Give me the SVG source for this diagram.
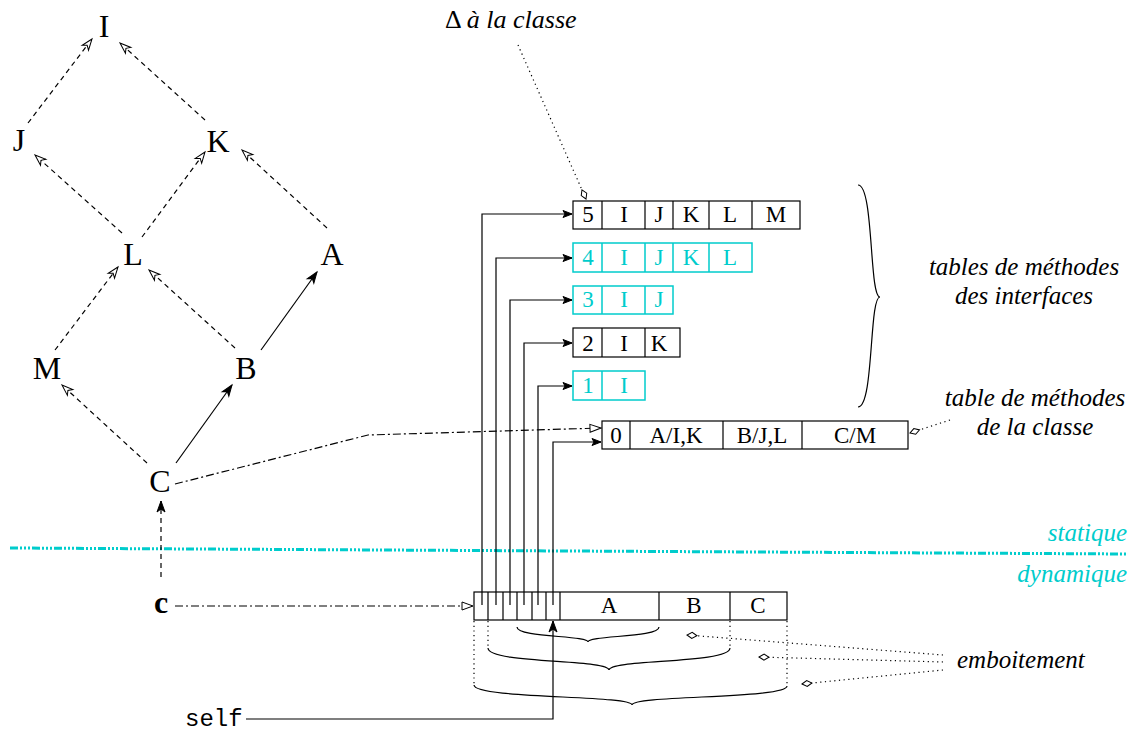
<svg xmlns="http://www.w3.org/2000/svg" width="1132" height="731" viewBox="0 0 1132 731">
<style>
text{font-family:"Liberation Serif","Times New Roman",serif;fill:#000}
.n{font-size:32px;text-anchor:middle}
.t{font-size:23px;text-anchor:middle}
.cy{fill:#00cccc}
.it{font-family:"Liberation Serif","Times New Roman",serif;font-style:italic;font-size:25px}
.box{fill:none;stroke:#000;stroke-width:1.2}
.cbox{fill:none;stroke:#00cccc;stroke-width:1.5}
.ln{fill:none;stroke:#000;stroke-width:1.2}
.dash{stroke-dasharray:5 4}
.dd{stroke-dasharray:8 3 2 3}
.dot{stroke-dasharray:1.2 3.5}
.mono{font-family:"Liberation Mono","Courier New",monospace;font-size:24px}
</style>
<defs>
<marker id="open" viewBox="-13 -6 15 12" refX="0" refY="0" markerWidth="15" markerHeight="12" markerUnits="userSpaceOnUse" orient="auto">
<path d="M0,0 L-11,-4 L-8,0 L-11,4 Z" fill="#fff" stroke="#000" stroke-width="1"/>
</marker>
<marker id="fill" viewBox="-13 -6 15 12" refX="0" refY="0" markerWidth="15" markerHeight="12" markerUnits="userSpaceOnUse" orient="auto">
<path d="M0,0 L-11,-4 L-8,0 L-11,4 Z" fill="#000" stroke="#000" stroke-width="1"/>
</marker>
<marker id="ptr" viewBox="-11 -5 12 10" refX="0" refY="0" markerWidth="12" markerHeight="10" markerUnits="userSpaceOnUse" orient="auto">
<path d="M0,0 L-9,-3.5 L-7,0 L-9,3.5 Z" fill="#000" stroke="#000" stroke-width="1"/>
</marker>
<marker id="tri" viewBox="-12 -6 13 12" refX="0" refY="0" markerWidth="13" markerHeight="12" markerUnits="userSpaceOnUse" orient="auto">
<path d="M0,0 L-11,-4 L-11,4 Z" fill="#fff" stroke="#000" stroke-width="1"/>
</marker>
<marker id="kite" viewBox="-12 -5 13 10" refX="0" refY="0" markerWidth="13" markerHeight="10" markerUnits="userSpaceOnUse" orient="auto">
<path d="M0,0 L-5,-3 L-10,0 L-5,3 Z" fill="#fff" stroke="#000" stroke-width="1"/>
</marker>
</defs>

<!-- separator -->
<g id="separator">
<line x1="10" y1="548" x2="1128" y2="554" stroke="#00cccc" stroke-width="3" stroke-dasharray="8 2 2 2 2 2 2 2"/>
<text class="it cy" x="1127" y="541" text-anchor="end">statique</text>
<text class="it cy" x="1127" y="582" text-anchor="end">dynamique</text>
</g>

<!-- hierarchy nodes -->
<g id="node-I"><text class="n" x="104" y="37">I</text></g>
<g id="node-J"><text class="n" x="19" y="151">J</text></g>
<g id="node-K"><text class="n" x="218" y="152">K</text></g>
<g id="node-L"><text class="n" x="133" y="265">L</text></g>
<g id="node-A"><text class="n" x="332" y="265">A</text></g>
<g id="node-M"><text class="n" x="47" y="379">M</text></g>
<g id="node-B"><text class="n" x="246" y="379">B</text></g>
<g id="node-C"><text class="n" x="160" y="492">C</text></g>
<g id="node-c"><text class="n" x="161" y="613" font-weight="bold" font-size="31">c</text></g>

<!-- tables -->
<g id="table-5">
<rect class="box" x="573" y="201" width="227" height="28"/>
<path class="ln" d="M602,201V229M645,201V229M673,201V229M709,201V229M752,201V229"/>
<text class="t" x="588" y="222">5</text><text class="t" x="624" y="222">I</text><text class="t" x="659" y="222">J</text><text class="t" x="691" y="222">K</text><text class="t" x="730" y="222">L</text><text class="t" x="776" y="222">M</text>
</g>
<g id="table-4">
<rect class="cbox" x="573" y="243" width="179" height="29"/>
<path class="cbox" d="M602,243V272M645,243V272M673,243V272M709,243V272"/>
<text class="t cy" x="588" y="265">4</text><text class="t cy" x="624" y="265">I</text><text class="t cy" x="659" y="265">J</text><text class="t cy" x="691" y="265">K</text><text class="t cy" x="730" y="265">L</text>
</g>
<g id="table-3">
<rect class="cbox" x="573" y="286" width="100" height="28"/>
<path class="cbox" d="M602,286V314M645,286V314"/>
<text class="t cy" x="588" y="307">3</text><text class="t cy" x="624" y="307">I</text><text class="t cy" x="659" y="307">J</text>
</g>
<g id="table-2">
<rect class="box" x="573" y="328" width="107" height="29"/>
<path class="ln" d="M602,328V357M645,328V357"/>
<text class="t" x="588" y="351">2</text><text class="t" x="624" y="351">I</text><text class="t" x="659" y="351">K</text>
</g>
<g id="table-1">
<rect class="cbox" x="573" y="371" width="72" height="29"/>
<path class="cbox" d="M602,371V400"/>
<text class="t cy" x="588" y="393">1</text><text class="t cy" x="624" y="393">I</text>
</g>
<g id="table-class">
<rect class="box" x="602" y="421" width="306" height="28"/>
<path class="ln" d="M630,421V449M723,421V449M802,421V449"/>
<text class="t" x="616" y="443">0</text><text class="t" x="676" y="443">A/I,K</text><text class="t" x="762" y="443">B/J,L</text><text class="t" x="855" y="443">C/M</text>
</g>

<!-- object -->
<g id="object">
<rect class="box" x="474" y="592" width="313" height="28"/>
<path class="ln" d="M488,592V620M503,592V620M517,592V620M532,592V620M546,592V620M560,592V620M659,592V620M730,592V620"/>
<text class="t" x="609" y="613">A</text><text class="t" x="694" y="613">B</text><text class="t" x="758" y="613">C</text>
</g>

<!-- labels -->
<g id="label-delta"><text x="445" y="28" font-size="26">Δ <tspan font-style="italic">à la classe</tspan></text></g>
<g id="label-interfaces">
<text class="it" x="1024" y="275" text-anchor="middle">tables de méthodes</text>
<text class="it" x="1024" y="304" text-anchor="middle">des interfaces</text>
</g>
<g id="label-classe">
<text class="it" x="1035" y="406" text-anchor="middle">table de méthodes</text>
<text class="it" x="1035" y="435" text-anchor="middle">de la classe</text>
</g>
<g id="label-emboitement"><text class="it" x="957" y="668">emboitement</text></g>
<g id="label-self"><text class="mono" x="185" y="726">self</text></g>

<!-- connectors -->
<g id="connectors">
<line class="ln dash" x1="28" y1="123" x2="92" y2="39" marker-end="url(#open)"/>
<line class="ln dash" x1="205" y1="120" x2="120" y2="43" marker-end="url(#open)"/>
<line class="ln dash" x1="122" y1="233" x2="35" y2="155" marker-end="url(#open)"/>
<line class="ln dash" x1="142" y1="237" x2="205" y2="152" marker-end="url(#open)"/>
<line class="ln dash" x1="327" y1="228" x2="242" y2="150" marker-end="url(#open)"/>
<line class="ln dash" x1="55" y1="350" x2="118" y2="267" marker-end="url(#open)"/>
<line class="ln dash" x1="235" y1="348" x2="149" y2="270" marker-end="url(#open)"/>
<line class="ln" x1="261" y1="350" x2="317" y2="272" marker-end="url(#fill)"/>
<line class="ln dash" x1="147" y1="463" x2="62" y2="385" marker-end="url(#open)"/>
<line class="ln" x1="176" y1="463" x2="232" y2="385" marker-end="url(#fill)"/>
<line class="ln dash" x1="161" y1="577" x2="161" y2="501" marker-end="url(#fill)"/>
<polyline class="ln dd" points="175,484 368,435 601,428" marker-end="url(#tri)"/>
<line class="ln dd" x1="175" y1="606" x2="473" y2="606" marker-end="url(#tri)"/>
<polyline class="ln" points="482,605 482,214 572,214" marker-end="url(#ptr)"/>
<polyline class="ln" points="496,605 496,258 572,258" marker-end="url(#ptr)"/>
<polyline class="ln" points="510,605 510,300 572,300" marker-end="url(#ptr)"/>
<polyline class="ln" points="524,605 524,343 572,343" marker-end="url(#ptr)"/>
<polyline class="ln" points="538,605 538,386 572,386" marker-end="url(#ptr)"/>
<polyline class="ln" points="553,605 553,442 601,442" marker-end="url(#ptr)"/>
<polyline class="ln" points="246,719 553,719 553,621" marker-end="url(#fill)"/>
<line class="ln dot" x1="518" y1="45" x2="586" y2="199" marker-end="url(#kite)"/>
<line class="ln dot" x1="950" y1="420" x2="910" y2="433" marker-end="url(#kite)"/>
<line class="ln dot" x1="943" y1="655" x2="687" y2="635" marker-end="url(#kite)"/>
<line class="ln dot" x1="943" y1="662" x2="759" y2="657" marker-end="url(#kite)"/>
<line class="ln dot" x1="943" y1="670" x2="802" y2="684" marker-end="url(#kite)"/>
<path class="ln dot" d="M474,621V684M488,621V647M730,621V647M787,621V686"/>
<path class="ln" d="M517,627 C517,638 588,635 588,642 C588,635 659,638 659,627"/>
<path class="ln" d="M488,648 C488,664 609,659 609,670 C609,659 730,664 730,648"/>
<path class="ln" d="M474,685 C474,699 632,695 632,705 C632,695 787,699 787,686"/>
<path class="ln" d="M858,185 C874,185 869,297 880,297 C869,297 874,407 858,407"/>
</g>
</svg>
